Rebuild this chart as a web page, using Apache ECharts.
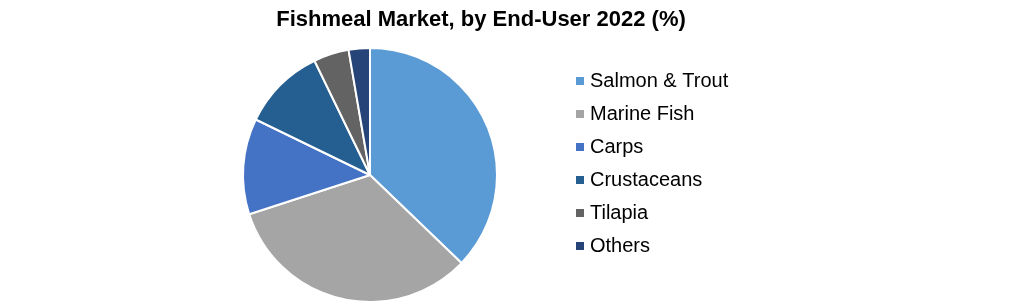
<!DOCTYPE html>
<html>
<head>
<meta charset="utf-8">
<script src="https://cdn.jsdelivr.net/npm/echarts@6/dist/echarts.min.js"></script>
<style>html,body{margin:0;padding:0;background:#fff}#c{width:1021px;height:304px}</style>
</head>
<body>
<div id="c"></div>
<script>
const categories = ['Salmon & Trout', 'Marine Fish', 'Carps', 'Crustaceans', 'Tilapia', 'Others'];
const values = [37.2, 32.8, 12.2, 10.6, 4.5, 2.7];
const colors = ['#5B9BD5', '#A5A5A5', '#4472C4', '#255E91', '#636363', '#264478'];
const titleText = 'Fishmeal Market, by End-User 2022 (%)';

const chart = echarts.init(document.getElementById('c'));
chart.setOption({
  animation: false,
  color: colors,
  title: {
    text: titleText,
    left: 476, top: 4, textAlign: 'center',
    textStyle: {fontFamily: 'Liberation Sans', fontWeight: 'bold', fontSize: 22, color: '#000'}
  },
  legend: {
    orient: 'vertical', left: 569, top: 66, padding: 5,
    itemWidth: 10, itemHeight: 10, itemGap: 13,
    icon: 'rect',
    textStyle: {fontFamily: 'Liberation Sans', fontSize: 20, lineHeight: 20, color: '#000'},
    data: categories
  },
  series: [{
    type: 'pie',
    center: [370, 175],
    radius: 127,
    startAngle: 90,
    clockwise: true,
    label: {show: false},
    labelLine: {show: false},
    itemStyle: {borderColor: '#fff', borderWidth: 2},
    emphasis: {disabled: true},
    data: categories.map((n, i) => ({name: n, value: values[i]}))
  }]
});
</script>
</body>
</html>
